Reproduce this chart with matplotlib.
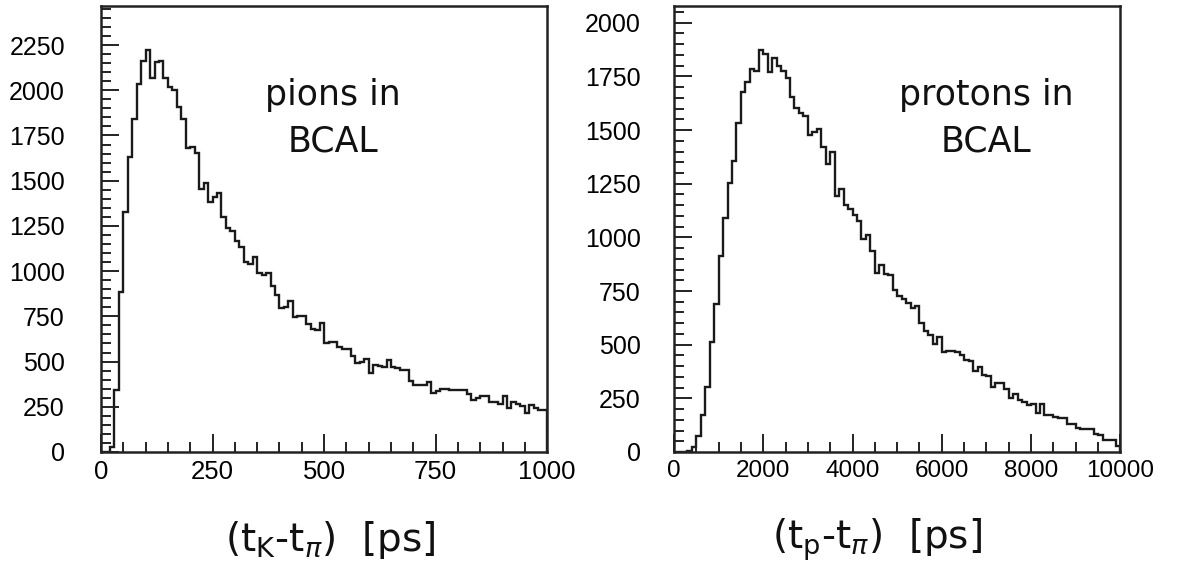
import numpy as np
import matplotlib.pyplot as plt
from matplotlib.ticker import MultipleLocator

# pions in BCAL: 100 bins of 10 ps from 0 to 1000
pion_counts = [0, 0, 25, 342, 886, 1328, 1632, 1839, 2034, 2163,
               2222, 2066, 2158, 2163, 2066, 2019, 2001, 1905, 1841, 1679,
               1685, 1651, 1454, 1489, 1383, 1408, 1430, 1297, 1236, 1223,
               1166, 1131, 1048, 1037, 1076, 991, 978, 991, 919, 867,
               797, 803, 834, 747, 751, 753, 707, 679, 674, 716,
               600, 606, 609, 581, 567, 572, 532, 493, 498, 513,
               438, 480, 475, 470, 508, 472, 467, 452, 452, 392,
               373, 373, 373, 388, 327, 336, 351, 346, 343, 343,
               341, 341, 320, 287, 296, 311, 311, 277, 277, 268,
               309, 241, 277, 264, 253, 216, 259, 241, 231, 231]
pion_range = (0, 1000)

# protons in BCAL: 100 bins of 100 ps from 0 to 10000
proton_counts = [0, 0, 0, 6, 22, 74, 173, 302, 512, 691,
                 912, 1088, 1251, 1356, 1531, 1675, 1725, 1784, 1776, 1873,
                 1854, 1771, 1837, 1798, 1776, 1744, 1652, 1601, 1580, 1566,
                 1476, 1492, 1504, 1422, 1344, 1398, 1193, 1227, 1150, 1134,
                 1103, 1077, 991, 1010, 935, 836, 870, 831, 823, 756,
                 725, 714, 694, 672, 678, 601, 564, 547, 505, 534,
                 465, 469, 469, 464, 450, 428, 426, 376, 394, 361,
                 353, 305, 321, 321, 295, 251, 270, 242, 232, 217,
                 224, 181, 222, 174, 174, 164, 157, 157, 129, 129,
                 114, 106, 106, 106, 85, 79, 55, 55, 55, 26]
proton_range = (0, 10000)

plt.rcParams['font.family'] = ['Liberation Sans', 'DejaVu Sans']


def draw_panel(ax, counts, rng, ymax, xmajor, xminor, xlab_size, ypad):
    edges = np.linspace(rng[0], rng[1], len(counts) + 1)
    ax.stairs(counts, edges, color='#1a1a1a', lw=1.7, baseline=0)
    ax.set_xlim(rng)
    ax.set_ylim(0, ymax)
    ax.xaxis.set_major_locator(MultipleLocator(xmajor))
    ax.xaxis.set_minor_locator(MultipleLocator(xminor))
    ax.yaxis.set_major_locator(MultipleLocator(250))
    ax.yaxis.set_minor_locator(MultipleLocator(50))
    ax.tick_params(which='both', direction='in', top=False, right=False,
                   width=1.4, color='#222222')
    ax.tick_params(which='major', length=13)
    ax.tick_params(which='minor', length=7)
    ax.tick_params(axis='y', labelsize=18, pad=ypad)
    ax.tick_params(axis='x', labelsize=xlab_size, pad=6)
    for s in ax.spines.values():
        s.set_linewidth(1.8)
        s.set_color('#222222')


fig = plt.figure(figsize=(11.77, 5.72), dpi=100)
ax1 = fig.add_axes([0.0858, 0.2098, 0.3791, 0.7797])
ax2 = fig.add_axes([0.5726, 0.2098, 0.3793, 0.7797])

draw_panel(ax1, pion_counts, pion_range, 2466, 250, 50, 18.5, 26)
draw_panel(ax2, proton_counts, proton_range, 2078, 2000, 500, 17.5, 24)

txt = dict(fontsize=25, ha='center', va='center', family='DejaVu Sans',
           color='#111111', linespacing=1.45)
fig.text(0.283, 0.793, 'pions in\nBCAL', **txt)
fig.text(0.838, 0.793, 'protons in\nBCAL', **txt)

lab = dict(fontsize=28, ha='center', va='center', family='DejaVu Sans',
           color='#111111')
fig.text(0.281, 0.056, r'(t$_{\mathrm{K}}$-t$_{\pi}$)  [ps]', **lab)
fig.text(0.745, 0.056, r'(t$_{\mathrm{p}}$-t$_{\pi}$)  [ps]', **lab)

fig.savefig('out.png', dpi=100)
